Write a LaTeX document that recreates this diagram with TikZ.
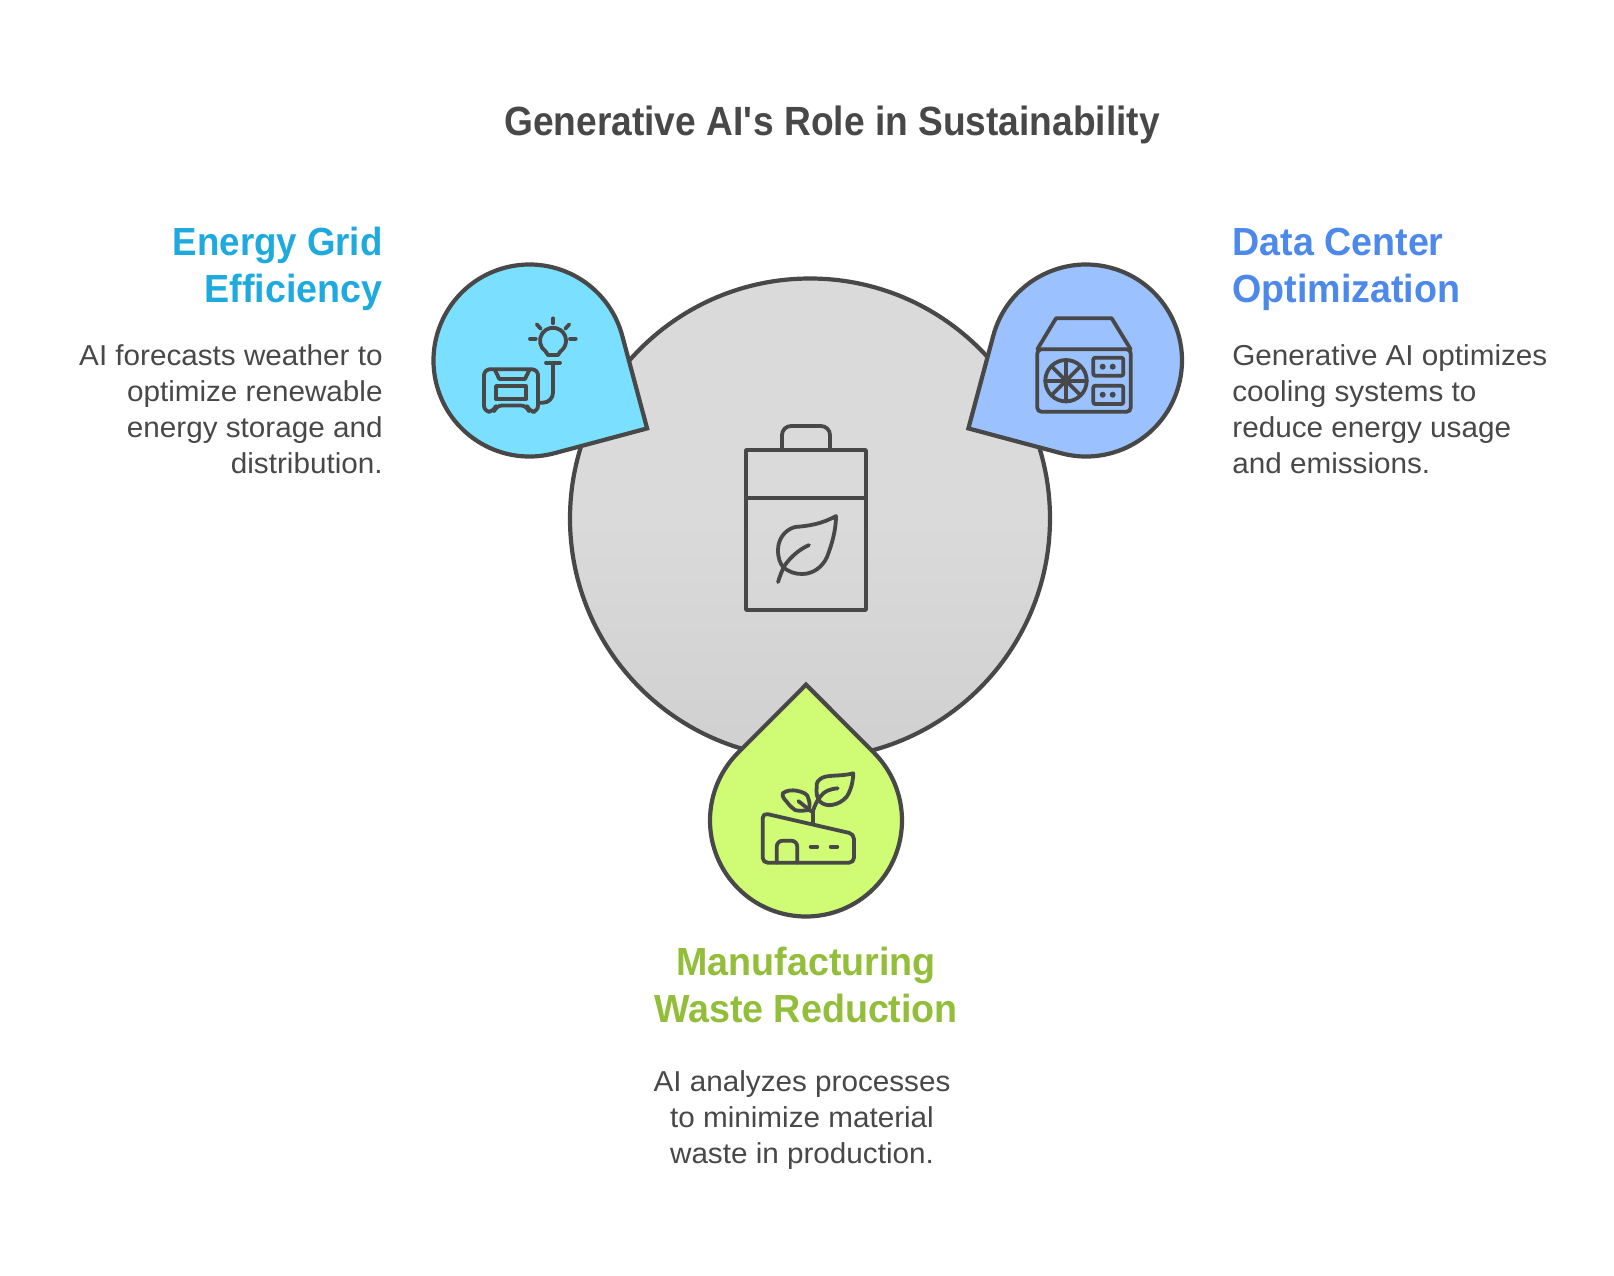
\documentclass[tikz,border=0pt]{standalone}
\usepackage{fontspec}
\setmainfont{Liberation Sans}
\newfontface\bodyface{Liberation Sans}[FakeStretch=1.03]
\newfontface\headface{Liberation Sans Bold}[FakeStretch=.96]
\newfontface\headnarrow{Liberation Sans Bold}[FakeStretch=.935]
\newfontface\titleface{Liberation Sans Bold}[FakeStretch=.91]
\definecolor{ink}{HTML}{484848}
\definecolor{skyfill}{HTML}{7BDFFF}
\definecolor{bluefill}{HTML}{9BC2FF}
\definecolor{limefill}{HTML}{D0FB74}
\definecolor{skyhead}{HTML}{1EAADF}
\definecolor{bluehead}{HTML}{4D89EA}
\definecolor{limehead}{HTML}{92BE39}
\definecolor{hubtop}{HTML}{DADADA}
\definecolor{hubbot}{HTML}{C6C6C6}
\pgfdeclareverticalshading{hubshade}{100bp}{color(0bp)=(hubbot);color(50bp)=(hubtop);color(100bp)=(hubtop)}
\tikzset{
  outline/.style={draw=ink,line width=2.1pt,line join=miter},
  icon/.style={draw=ink,line width=1.9pt,line cap=round,line join=round},
  dotmark/.style={fill=ink,draw=none},
  titletext/.style={inner sep=0pt,text=ink,font=\fontsize{20.4}{24}\titleface},
  headtext/.style={inner sep=0pt,font=\fontsize{19.6}{23.5}\headface},
  bodytext/.style={inner sep=0pt,text=ink,font=\fontsize{14.4}{18}\bodyface},
}
\newcommand{\droplet}[4]{%
  \path[outline,fill=#4] (#1,#2)+(#3:135.8) -- ++(#3+45:96) arc[start angle=#3+45,end angle=#3+315,radius=96] -- cycle;}
\begin{document}
\begin{tikzpicture}[x=0.5pt,y=-0.5pt]
\useasboundingbox (0,0) rectangle (1614,1276);
\fill[white] (0,0) rectangle (1614,1276);
% hub
\node[circle,draw=ink,line width=2.1pt,shading=hubshade,inner sep=0pt,outer sep=0pt,minimum size=240pt] (hub) at (810,518.5) {};
% drops
\droplet{529.5}{360.5}{30}{skyfill}
\droplet{1086}{360.5}{150}{bluefill}
\droplet{806}{820.5}{270}{limefill}
% battery
\draw[icon] (746,450) rectangle (866,610);
\draw[icon] (746,497.7) -- (866,497.7);
\draw[icon,rounded corners=4.5pt] (782,450) -- (782,426) -- (830,426) -- (830,450);
\draw[icon] (836,516) .. controls (822,524) and (808,526) .. (795,527) .. controls (784,530) and (778,540) .. (778,550) .. controls (778,558) and (780,563) .. (783,567) .. controls (789,572) and (795,574) .. (802,574) .. controls (814,574) and (823,566) .. (827,557) .. controls (832,544) and (836,530) .. (836,516) -- cycle;
\draw[icon] (809,545) .. controls (798,550) and (790,558) .. (785,565) .. controls (782,570) and (780,576) .. (778,582);
% energy icon
\draw[icon] (553,340.7) +(125:13) arc[start angle=125,end angle=415,radius=13] -- (558,355) -- (548,355) -- cycle;
\draw[icon] (553,318.3) -- (553,323.3);
\draw[icon] (536.7,324.3) -- (540.7,328.7);
\draw[icon] (569.3,324.3) -- (565.3,328.7);
\draw[icon] (530,338.7) -- (535.7,338.7);
\draw[icon] (570,338.7) -- (575.7,338.7);
\draw[icon] (546,362.7) -- (560,362.7);
\draw[icon,rounded corners=5pt] (553,362.7) -- (553,402.7) -- (538.3,402.7);
\draw[icon,rounded corners=3pt] (495,369.3) -- (538,369.3) -- (538,411.7) -- (529,411.7) -- (527,405.5) -- (496,405.5) -- (494,411.7) -- (484,411.7) -- (484,369.3) -- cycle;
\draw[icon] (496,386) rectangle (525.7,399.3);
\draw[icon] (495,370) -- (499.3,379) -- (525,379) -- (529.3,370);
% server icon
\draw[icon] (1037.3,349.3) -- (1056,318.3) -- (1111.7,318.3) -- (1130.7,349.3);
\draw[icon,rounded corners=2pt] (1037.3,349.3) -- (1037.3,411.7) -- (1130.7,411.7) -- (1130.7,349.3) -- cycle;
\draw[icon] (1066,380.7) circle[radius=20.7];
\foreach \a in {0,45,...,315}{\draw[icon] (1066,380.7) -- +(\a:20.7);}
\draw[icon,rounded corners=1pt] (1093.3,357.7) rectangle (1123.3,375.7);
\draw[icon,rounded corners=1pt] (1093.3,385.7) rectangle (1123.3,404);
\foreach \px/\py in {1102.7/366.7,1112.7/366.7,1102.7/394.7,1112.7/394.7}{\fill[dotmark] (\px,\py) circle[radius=3];}
% factory icon
\draw[icon,rounded corners=2.5pt] (762.7,862.7) -- (762.7,813) -- (854,834) -- (854,862.7) -- cycle;
\draw[icon,rounded corners=3pt] (776.7,862.7) -- (776.7,840.7) -- (797.3,840.7) -- (797.3,862.7);
\draw[icon] (810.7,846.7) -- (817.3,846.7);
\draw[icon] (830.7,846.7) -- (837.3,846.7);
\draw[icon] (813.3,824) -- (813.3,810);
\draw[icon] (853.3,773.3) .. controls (843,776) and (834,775) .. (825,776.7) .. controls (818,779) and (816,783) .. (816.7,786.7) .. controls (816,793) and (817,798) .. (820,801.7) .. controls (824,805) and (828,805.5) .. (831.7,805) .. controls (838,804) and (843,801) .. (846.7,796.7) .. controls (851,790) and (853,782) .. (853.3,773.3) -- cycle;
\draw[icon] (837.7,788.3) .. controls (829,789) and (824,792) .. (821.7,795) .. controls (817,800) and (815,805) .. (813.3,810);
\draw[icon] (782.7,793.3) .. controls (787,790) and (792,790) .. (796.7,790.7) .. controls (803,792) and (808,794) .. (808.3,798.3) .. controls (810,803) and (810,806) .. (808.3,810) .. controls (803,811) and (798,811) .. (795,810) .. controls (790,806) and (788,804) .. (786.7,801.7) .. controls (784,799) and (782,796) .. (782.7,793.3) -- cycle;
\draw[icon] (798.3,801) -- (811.7,811.7);
% texts
\node[titletext,anchor=base] (title) at (832,135) {Generative AI\textquotesingle s Role in Sustainability};
\node[headtext,text=skyhead,align=right,anchor=north east] (skyhead) at (383,223) {\rule{0pt}{16pt}{\headnarrow Energy Grid}\\Efficiency};
\node[bodytext,align=right,anchor=north east] (skybody) at (383,341) {\rule{0pt}{12pt}AI forecasts weather to\\optimize renewable\\energy storage and\\distribution.};
\node[headtext,text=bluehead,align=left,anchor=north west] (bluehead) at (1232,223) {\rule{0pt}{16pt}Data Center\\Optimization};
\node[bodytext,align=left,anchor=north west] (bluebody) at (1232,341) {\rule{0pt}{12pt}Generative AI optimizes\\cooling systems to\\reduce energy usage\\and emissions.};
\node[headtext,text=limehead,align=center,anchor=north] (limehead) at (806,943) {\rule{0pt}{16pt}Manufacturing\\Waste Reduction};
\node[bodytext,align=center,anchor=north] (limebody) at (802,1067) {\rule{0pt}{12pt}AI analyzes processes\\to minimize material\\waste in production.};
\end{tikzpicture}
\end{document}
